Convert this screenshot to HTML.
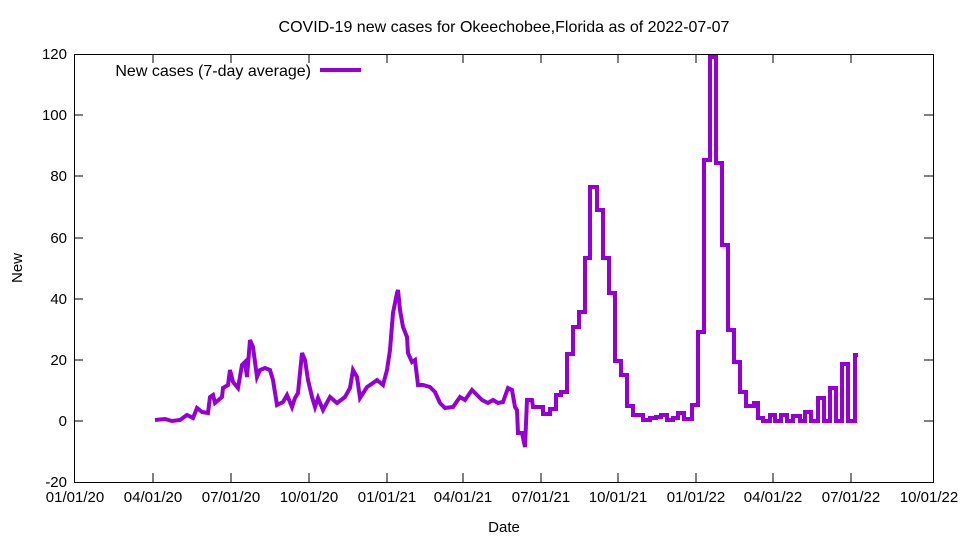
<!DOCTYPE html>
<html><head><meta charset="utf-8"><style>
html,body{margin:0;padding:0;background:#fff;}
svg{display:block;font-family:"Liberation Sans",Arial,sans-serif;}
</style></head><body>
<svg width="960" height="540" viewBox="0 0 960 540" xmlns="http://www.w3.org/2000/svg">
<rect width="960" height="540" fill="#fff"/>
<text x="504" y="32" font-size="16" text-anchor="middle">COVID-19 new cases for Okeechobee,Florida as of 2022-07-07</text>
<g stroke="#000" stroke-width="1" fill="none">
<rect x="74.5" y="54.5" width="859" height="428"/>
<path d="M74,421h9M933,421h-9M74,360h9M933,360h-9M74,299h9M933,299h-9M74,238h9M933,238h-9M74,176h9M933,176h-9M74,115h9M933,115h-9"/>
<path d="M153,482v-9M153,54v9M231,482v-9M231,54v9M309,482v-9M309,54v9M387,482v-9M387,54v9M463,482v-9M463,54v9M541,482v-9M541,54v9M618,482v-9M618,54v9M696,482v-9M696,54v9M773,482v-9M773,54v9M851,482v-9M851,54v9"/>
</g>
<g font-size="15" text-anchor="end">
<text x="67" y="487">-20</text><text x="67" y="426">0</text><text x="67" y="365">20</text><text x="67" y="304">40</text><text x="67" y="243">60</text><text x="67" y="181">80</text><text x="67" y="120">100</text><text x="67" y="59">120</text>
</g>
<g font-size="15" text-anchor="middle">
<text x="75" y="502">01/01/20</text><text x="153" y="502">04/01/20</text><text x="231" y="502">07/01/20</text><text x="309" y="502">10/01/20</text><text x="387" y="502">01/01/21</text><text x="463" y="502">04/01/21</text><text x="541" y="502">07/01/21</text><text x="618" y="502">10/01/21</text><text x="696" y="502">01/01/22</text><text x="773" y="502">04/01/22</text><text x="851" y="502">07/01/22</text><text x="929" y="502">10/01/22</text>
<text x="504" y="532">Date</text>
<text x="22" y="268" transform="rotate(-90 22 268)">New</text>
</g>
<text x="311" y="76" font-size="16" text-anchor="end">New cases (7-day average)</text>
<path d="M320,70H361" stroke="#9400d3" stroke-width="4"/>
<polyline fill="none" stroke="#9400d3" stroke-width="4" stroke-linejoin="miter" points="
155,420 165,419 172,421 180,420 187,415 193,418 197,408 202,412 208,413 210,397 213,395 215,403 222,397 223,388 228,385 230,370 233,382 238,388 242,365 245,362 247,377 250,340 253,347 257,377 260,370 265,368 270,370 273,380 277,405 283,402 287,395 292,407 295,398 298,393 302,353 305,360 308,380 312,397 315,407 318,398 323,410 330,397 337,403 345,397 350,388 353,370 357,377 360,398 367,387 373,383 377,380 383,385 387,370 390,350 393,313 397,293 398,290 400,310 403,327 407,337 408,353 412,362 415,360 418,385 423,385 430,387 435,392 440,403 445,408 453,407 460,397 465,400 472,390 477,395 482,400 488,403 493,400 498,403 503,402 508,388 512,390 515,407 517,410 518,433 522,433 525,447 527,400 532,400 533,407
543,407 543,414 550,414 550,409 556,409 556,395 561,395 561,392 567,392 567,354 573,354 573,327 579,327 579,312 585,312 585,258 590,258 590,187 597,187 597,210 603,210 603,258 609,258 609,293 615,293 615,361 621,361 621,375 627,375 627,406 633,406 633,415 643,415 643,420 650,420 650,418 656,418 656,417 661,417 661,415 667,415 667,420 673,420 673,418 678,418 678,413 684,413 684,419 692,419 692,405 698,405 698,332 704,332 704,160 710,160 710,57 716,57 716,163 722,163 722,245 728,245 728,330 734,330 734,362 740,362 740,392 746,392 746,406 754,406 754,403 758,403 758,418 763,418 763,421 770,421 770,415 775,415 775,421 781,421 781,415 787,415 787,421 793,421 793,416 800,416 800,421 805,421 805,412 811,412 811,421 818,421 818,398 824,398 824,421 830,421 830,388 836,388 836,421 842,421 842,364 848,364 848,421 855,421 855,355 858,355"/>
</svg>
</body></html>
